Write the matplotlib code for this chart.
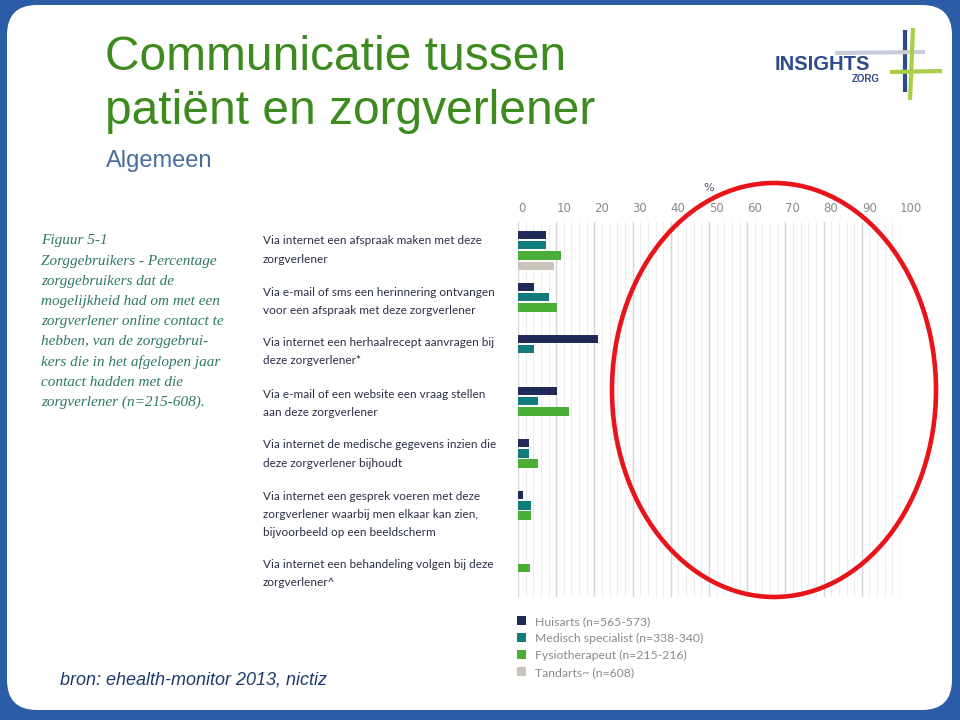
import matplotlib
matplotlib.use("Agg")
import matplotlib.pyplot as plt
import numpy as np
from matplotlib.patches import Ellipse, FancyBboxPatch
from matplotlib.lines import Line2D

W, H = 960, 720

CATEGORIES = [
    "Via internet een afspraak maken met deze\nzorgverlener",
    "Via e-mail of sms een herinnering ontvangen\nvoor een afspraak met deze zorgverlener",
    "Via internet een herhaalrecept aanvragen bij\ndeze zorgverlener*",
    "Via e-mail of een website een vraag stellen\naan deze zorgverlener",
    "Via internet de medische gegevens inzien die\ndeze zorgverlener bijhoudt",
    "Via internet een gesprek voeren met deze\nzorgverlener waarbij men elkaar kan zien,\nbijvoorbeeld op een beeldscherm",
    "Via internet een behandeling volgen bij deze\nzorgverlener^",
]

SERIES = ["Huisarts (n=565-573)", "Medisch specialist (n=338-340)",
          "Fysiotherapeut (n=215-216)", "Tandarts~ (n=608)"]
huisarts = [7.2, 4.3, 21.0, 10.3, 3.0, 1.2, np.nan]
medisch = [7.2, 8.2, 4.3, 5.2, 3.0, 3.3, np.nan]
fysio = [11.3, 10.3, np.nan, 13.4, 5.2, 3.3, 3.1]
tandarts = [9.3, np.nan, np.nan, np.nan, np.nan, np.nan, np.nan]
COLORS = ["#1f2b57", "#0f7b7a", "#4bae37", "#c9c3bb"]

X_TICKS = [0, 10, 20, 30, 40, 50, 60, 70, 80, 90, 100]

CAPTION = ["Figuur 5-1", "Zorggebruikers - Percentage", "zorggebruikers dat de",
           "mogelijkheid had om met een", "zorgverlener online contact te",
           "hebben, van de zorggebrui-", "kers die in het afgelopen jaar",
           "contact hadden met die", "zorgverlener (n=215-608)."]


def fx(x):
    return x / W


def fy(y):
    return 1 - y / H


fig = plt.figure(figsize=(9.6, 7.2), dpi=100)
fig.patch.set_facecolor("#2b5ca6")

# white slide with rounded corners (pixel coords)
card = FancyBboxPatch((7 + 30, H - 710 + 30), 945 - 60, 705 - 60,
                      boxstyle="round,pad=30", transform=None,
                      facecolor="white", edgecolor="none", zorder=-10)
fig.add_artist(card)

# title
fig.text(fx(105), fy(57), "Communicatie tussen", fontsize=34.5, color="#3d8a1f",
         family="Liberation Sans", va="center", ha="left")
fig.text(fx(105), fy(112), "patiënt en zorgverlener", fontsize=34.5, color="#3d8a1f",
         family="Liberation Sans", va="center", ha="left")
fig.text(fx(106), fy(161), "Algemeen", fontsize=17, color="#4a6c9c",
         family="Liberation Sans", va="center", ha="left")
fig.text(fx(60), fy(680), "bron: ehealth-monitor 2013, nictiz", fontsize=13,
         color="#1f3b6e", family="Liberation Sans", style="italic",
         va="center", ha="left")

# logo
for (x0, y0, x1, y1, c, lw) in [(905, 30, 905, 92, "#2d4a8c", 3),
                                (835, 53, 925, 52, "#c8ccd8", 3),
                                (913, 28, 910, 100, "#a8cf45", 3),
                                (890, 72, 942, 71, "#a8cf45", 3)]:
    fig.add_artist(Line2D([fx(x0), fx(x1)], [fy(y0), fy(y1)], color=c, lw=lw,
                          transform=fig.transFigure, solid_capstyle="butt"))
fig.text(fx(775), fy(64), "INSIGHTS", fontsize=14.5, fontweight="bold",
         color="#2d4a8c", family="Liberation Sans", va="center", ha="left")
fig.text(fx(880), fy(79), "ZORG", fontsize=7, fontweight="bold",
         color="#2d4a8c", family="Liberation Sans", va="center", ha="right")

# caption
for i, line in enumerate(CAPTION):
    fig.text(fx(41), fy(241 + i * 20.2), line, fontsize=11, color="#2e7868",
             family="Liberation Serif", style="italic", va="center", ha="left")

# category labels, flowing text
y = 241
for lab in CATEGORIES:
    lines = lab.split("\n")
    for k, line in enumerate(lines):
        fig.text(fx(263), fy(y + k * 18), line, fontsize=8.5, color="#2b2f48",
                 family="Lato", va="center", ha="left")
    y += 18 * (len(lines) - 1) + 33

# chart
ax = fig.add_axes([fx(518), fy(597), fx(900) - fx(518), fy(222) - fy(597)])
ax.set_facecolor("white")
pos = np.arange(len(CATEGORIES))
slot = 0.198
for j, (vals, col, name) in enumerate(zip([huisarts, medisch, fysio, tandarts], COLORS, SERIES)):
    ax.barh(pos + j * slot, vals, height=0.16, color=col, label=name, zorder=3)

ax.set_xlim(0, 100)
ax.set_ylim(6.96, -0.25)
ax.set_xticks(X_TICKS)
ax.set_xticks(np.arange(0, 101, 2), minor=True)
ax.xaxis.tick_top()
ax.tick_params(axis="x", which="both", length=0, pad=5, labelsize=8.5, labelcolor="#8a8a8a")
for lbl in ax.get_xticklabels():
    lbl.set_horizontalalignment("left")
ax.set_yticks([])
ax.grid(True, axis="x", which="major", color="#d6d6d6", lw=1.0, zorder=0)
ax.grid(True, axis="x", which="minor", color="#eeeeee", lw=0.8, zorder=0)
for s in ax.spines.values():
    s.set_visible(False)
ax.set_xlabel("%", fontsize=8, color="#4a4f66", labelpad=8)
ax.xaxis.set_label_position("top")

fig.legend(loc="upper left", bbox_to_anchor=(fx(512), fy(611)), frameon=False,
           handlelength=0.75, handleheight=0.75, handletextpad=0.7,
           labelspacing=0.49, prop={"family": "Lato", "size": 8.8},
           labelcolor="#8a8a8a", borderaxespad=0)

# red ellipse highlight
fig.add_artist(Ellipse((774, H - 390), 324, 414, transform=None, fill=False,
                       edgecolor="#e8141a", lw=3.3, zorder=5))

fig.savefig("out.png", dpi=100)
